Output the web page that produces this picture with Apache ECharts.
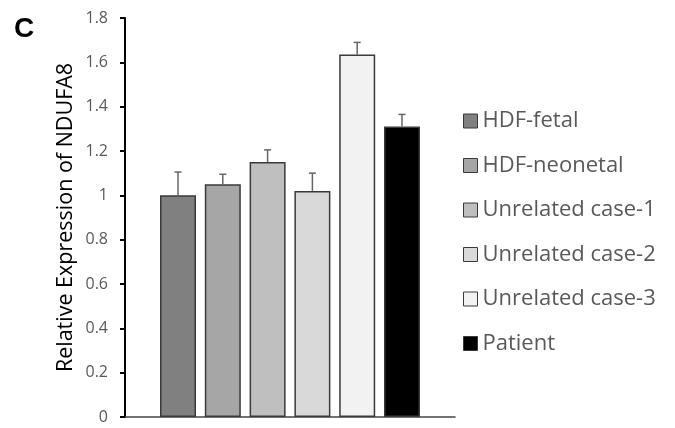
<!DOCTYPE html>
<html><head><meta charset="utf-8">
<script src="https://cdn.jsdelivr.net/npm/echarts@6/dist/echarts.min.js"></script>
<style>html,body{margin:0;padding:0;background:#fff}#c{width:675px;height:428px}</style>
</head><body><div id="c"></div>
<script>
const groups = ['HDF-fetal','HDF-neonetal','Unrelated case-1','Unrelated case-2','Unrelated case-3','Patient'];
const values = [1.00, 1.05, 1.15, 1.02, 1.635, 1.31];
const errors = [0.105, 0.045, 0.055, 0.08, 0.055, 0.055];
const colors = ['#808080','#a6a6a6','#bfbfbf','#d9d9d9','#f2f2f2','#000000'];
const yTicks = [0, 0.2, 0.4, 0.6, 0.8, 1, 1.2, 1.4, 1.6, 1.8];

const BAR_W = 36, BAR_GAP = 8.8;
const chart = echarts.init(document.getElementById('c'));
const series = groups.map((g, i) => ({
  name: g, type: 'bar', data: [values[i]], barWidth: BAR_W, barGap: (BAR_GAP / BAR_W * 100) + '%',
  itemStyle: { color: colors[i], borderColor: '#3a3a3a', borderWidth: 1.5 }, z: 2
}));
series.push({
  type: 'custom', name: 'err', z: 3, silent: true,
  data: groups.map((g, i) => [0, values[i], errors[i], i]),
  renderItem: function (params, api) {
    const i = api.value(3);
    const base = api.coord([0, api.value(1)]);
    const top = api.coord([0, api.value(1) + api.value(2)]);
    const x = base[0] + (i - (groups.length - 1) / 2) * (BAR_W + BAR_GAP);
    const st = { stroke: '#666', lineWidth: 1.5 };
    return { type: 'group', children: [
      { type: 'line', shape: { x1: x, y1: base[1], x2: x, y2: top[1] }, style: st },
      { type: 'line', shape: { x1: x - 3.5, y1: top[1], x2: x + 3.5, y2: top[1] }, style: st }
    ]};
  }
});

chart.setOption({
  animation: false,
  title: { text: 'C', left: 9, top: 10, textStyle: { fontFamily: 'Liberation Sans', fontWeight: 'bold', fontSize: 28, color: '#000' } },
  grid: { left: 125, right: 220, top: 18, bottom: 11 },
  legend: {
    orient: 'vertical', left: 463, top: 110, padding: 0, itemWidth: 14, itemHeight: 14, itemGap: 22.5,
    icon: 'rect',
    data: groups,
    itemStyle: { borderColor: '#3a3a3a', borderWidth: 1 },
    textStyle: { fontFamily: 'Open Sans', fontSize: 22, color: '#595959', lineHeight: 22 }
  },
  xAxis: {
    type: 'category', data: ['g'],
    axisLine: { lineStyle: { color: '#444', width: 1.5 } },
    axisTick: { show: false }, axisLabel: { show: false }
  },
  yAxis: {
    type: 'value', min: 0, max: 1.8, interval: 0.2,
    name: 'Relative Expression of NDUFA8', nameLocation: 'middle', nameGap: 48,
    nameTextStyle: { fontFamily: 'Open Sans', fontSize: 21.5, color: '#000' },
    axisLine: { show: true, lineStyle: { color: '#000', width: 2 } },
    axisTick: { show: true, length: 5, lineStyle: { color: '#000', width: 2 } },
    splitLine: { show: false },
    axisLabel: { fontFamily: 'Open Sans', fontSize: 16, color: '#595959', margin: 17,
      formatter: v => { const t = yTicks.find(k => Math.abs(k - v) < 1e-6); return String(t); } }
  },
  series: series
});
</script></body></html>
